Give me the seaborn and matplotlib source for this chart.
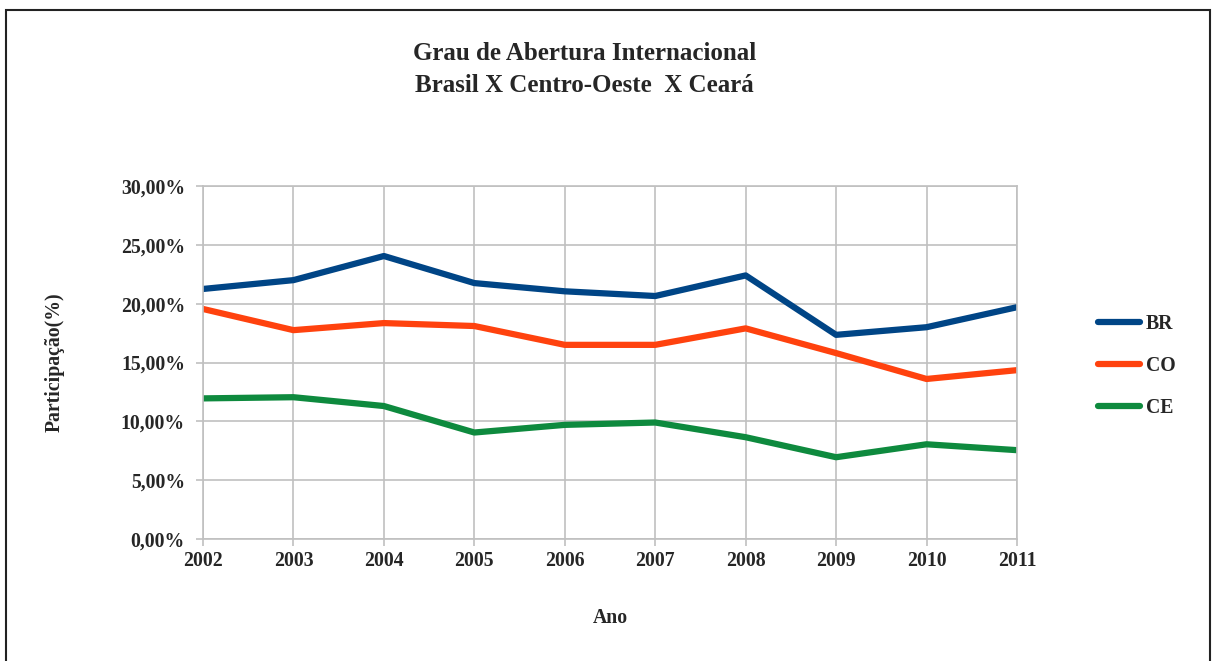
import numpy as np
import pandas as pd
import seaborn as sns
import matplotlib.pyplot as plt
from matplotlib.patches import Rectangle
from matplotlib.ticker import FuncFormatter

# data
anos = [2002, 2003, 2004, 2005, 2006, 2007, 2008, 2009, 2010, 2011]
br = [21.25, 22.0, 24.05, 21.75, 21.05, 20.65, 22.4, 17.35, 18.0, 19.7]
co = [19.55, 17.75, 18.35, 18.1, 16.5, 16.5, 17.9, 15.8, 13.6, 14.35]
ce = [11.95, 12.05, 11.3, 9.05, 9.7, 9.9, 8.65, 6.95, 8.05, 7.55]
series = ['BR', 'CO', 'CE']
cores = ['#004586', '#ff420e', '#0e8a3e']

df = pd.DataFrame({'Ano': anos, 'BR': br, 'CO': co, 'CE': ce})
df = df.melt(id_vars='Ano', var_name='Serie', value_name='Valor')

sns.set_style('white')
plt.rcParams['font.family'] = ['Liberation Serif', 'DejaVu Serif']
plt.rcParams['font.weight'] = 'bold'

fs = 14.2
fig = plt.figure(figsize=(12.12, 6.61), dpi=100)
ax = fig.add_axes([203 / 1212, 1 - 539 / 661, (1017 - 203) / 1212, (539 - 186) / 661])

sns.lineplot(data=df, x='Ano', y='Valor', hue='Serie', hue_order=series,
             palette=cores, linewidth=4.5, ax=ax, solid_capstyle='round')

ax.set_xlim(2002, 2011)
ax.set_ylim(0, 30)
ax.set_xticks(anos)
ax.set_yticks(np.arange(0, 31, 5))
ax.yaxis.set_major_formatter(FuncFormatter(lambda v, p: f'{v:.2f}%'.replace('.', ',')))
ax.grid(True, color='#c0c0c0', linewidth=1.2)
ax.set_axisbelow(True)
for s in ax.spines.values():
    s.set_color('#c0c0c0')
    s.set_linewidth(1.2)
ax.tick_params(axis='both', length=5, width=1.2, color='#c0c0c0', labelsize=fs,
               bottom=True, left=True)
ax.tick_params(axis='y', pad=8)
ax.tick_params(axis='x', pad=4)
for lab in ax.get_xticklabels() + ax.get_yticklabels():
    lab.set_fontweight('bold')

ax.set_xlabel('Ano', fontsize=fs, fontweight='bold', labelpad=26)
ax.set_ylabel('Participação(%)', fontsize=fs, fontweight='bold', labelpad=40)

leg = ax.legend(loc='center left', bbox_to_anchor=(1.078, 0.49), frameon=False,
                fontsize=fs, handlelength=2.1, handletextpad=0.3, labelspacing=1.1)
for line in leg.get_lines():
    line.set_linewidth(4.5)
for t in leg.get_texts():
    t.set_fontweight('bold')

fig.text(0.482, 1 - 70 / 661, 'Grau de Abertura Internacional\nBrasil X Centro-Oeste  X Ceará',
         ha='center', va='center', fontsize=18, fontweight='bold', linespacing=1.5)

fig.patches.append(Rectangle((6 / 1212, -0.05), (1210 - 6) / 1212, 1.05 - 10 / 661,
                             transform=fig.transFigure, fill=False,
                             edgecolor='#222222', linewidth=1.5))

fig.savefig('out.png', dpi=100)
